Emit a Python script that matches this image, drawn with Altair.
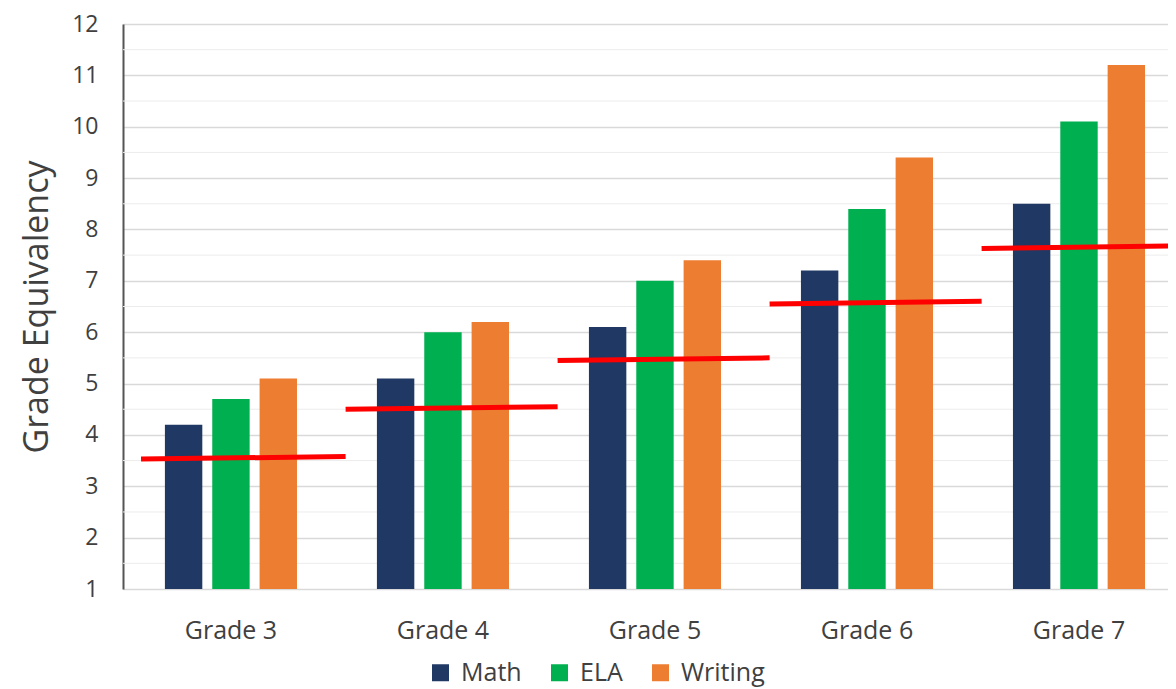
import altair as alt
import pandas as pd

grades = ["Grade 3", "Grade 4", "Grade 5", "Grade 6", "Grade 7"]
subjects = ["Math", "ELA", "Writing"]
math_vals = [4.2, 5.1, 6.1, 7.2, 8.5]
ela_vals = [4.7, 6.0, 7.0, 8.4, 10.1]
writing_vals = [5.1, 6.2, 7.4, 9.4, 11.2]
bench_start = [3.53, 4.50, 5.45, 6.55, 7.63]
bench_end = [3.58, 4.55, 5.50, 6.60, 7.68]
y_ticks = list(range(1, 13))
colors = ["#203864", "#00B050", "#ED7D31"]

W, H = 1045, 565
TOP = 16
STEP = 212
FONT = "Open Sans"
TXT = "#404040"

rows = []
for g, m, e, w in zip(grades, math_vals, ela_vals, writing_vals):
    for s, v in zip(subjects, (m, e, w)):
        rows.append({"grade": g, "subject": s, "value": v})
bars_df = pd.DataFrame(rows)

xmax = W / STEP
seg_df = pd.DataFrame({
    "x0": [0.085] + [i + 0.05 for i in range(1, 5)],
    "x1": [min(i + 1.05, xmax) for i in range(5)],
    "y0": bench_start,
    "y1": bench_end,
})
minor_df = pd.DataFrame({"v": [t + 0.5 for t in y_ticks[:-1]]})

yscale = alt.Scale(domain=[1, 12], nice=False, zero=False)
y_axis = alt.Axis(
    title="Grade Equivalency", values=y_ticks, ticks=False, tickSize=0,
    labelFont=FONT, labelFontSize=23, labelColor=TXT, labelPadding=25,
    titleFont=FONT, titleFontSize=34, titleFontWeight="normal", titleColor=TXT,
    titlePadding=17, domain=True, domainColor="#555555", domainWidth=2,
    grid=True, gridColor="#d9d9d9", gridWidth=1.5,
)

minor = alt.Chart(minor_df).mark_rule(color="#ececec", strokeWidth=1).encode(
    y=alt.Y("v:Q", scale=yscale, axis=y_axis)
)

bars = alt.Chart(bars_df).mark_bar().encode(
    x=alt.X(
        "grade:N", sort=grades,
        scale=alt.Scale(paddingInner=0.377, paddingOuter=0.153, align=0.646),
        axis=alt.Axis(title=None, labelAngle=0, ticks=False, domain=False,
                      labelFont=FONT, labelFontSize=25, labelColor=TXT,
                      labelPadding=29, grid=False),
    ),
    xOffset=alt.XOffset("subject:N", sort=subjects,
                        scale=alt.Scale(paddingInner=0.21, paddingOuter=0)),
    y=alt.Y("value:Q", scale=yscale, axis=y_axis),
    y2=alt.datum(1),
    color=alt.Color(
        "subject:N", sort=subjects,
        scale=alt.Scale(domain=subjects, range=colors),
        legend=alt.Legend(
            title=None, orient="none", direction="horizontal",
            legendX=305, legendY=636, symbolType="square", symbolSize=289,
            symbolStrokeWidth=0, labelFont=FONT, labelFontSize=25,
            labelColor=TXT, labelOffset=8, columnPadding=25, padding=0,
        ),
    ),
)

bench = alt.Chart(seg_df).mark_rule(color="#FF0000", strokeWidth=5).encode(
    x=alt.X("x0:Q", scale=alt.Scale(domain=[0, xmax], nice=False, zero=False), axis=None),
    x2="x1:Q",
    y=alt.Y("y0:Q", scale=yscale, axis=y_axis),
    y2="y1:Q",
)

chart = (
    alt.layer(minor, bars, bench)
    .resolve_scale(x="independent")
    .properties(
        width=W, height=H, autosize="none",
        padding={"left": 115, "top": TOP, "right": 0, "bottom": 681 - TOP - H},
        background="white",
    )
    .configure_view(stroke=None)
)

chart.save("out.html", embed_options={"renderer": "svg", "actions": False})
